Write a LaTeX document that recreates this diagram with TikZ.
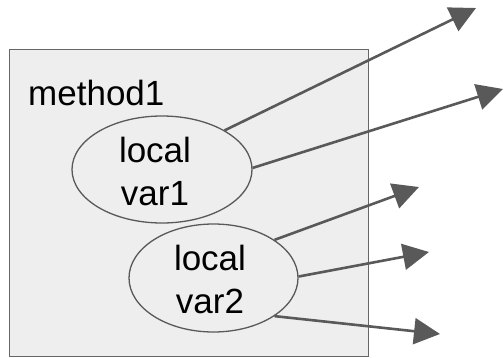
\documentclass[tikz,border=0pt]{standalone}
\usepackage{fontspec}
\setmainfont{Liberation Sans}
\usetikzlibrary{shapes.geometric,arrows.meta}
\definecolor{boxfill}{HTML}{EEEEEE}
\definecolor{boxline}{HTML}{666666}
\definecolor{arrowc}{HTML}{595959}
\tikzset{
  bigtext/.style={font=\fontsize{35}{43}\selectfont, inner sep=0pt, text=black},
  varell/.style={ellipse, draw=arrowc, fill=boxfill, line width=1.3pt, inner sep=0pt},
  ptr/.style={draw=arrowc, line width=2.6pt, -{Triangle[length=26pt,width=26pt]}}
}
\begin{document}
\begin{tikzpicture}[x=1pt,y=-1pt]
\useasboundingbox (0,0) rectangle (504,357);
% method frame
\node[draw=boxline, fill=boxfill, line width=1.4pt, rectangle, inner sep=0pt,
      minimum width=359pt, minimum height=307pt, anchor=north west] (frame) at (9,49) {};
\node[bigtext, anchor=base west] (mname) at (28,105.5) {method1};
% local variables
\node[varell, minimum width=180pt, minimum height=107pt] (e1) at (162,169.5) {};
\node[bigtext, align=center] (e1t) at (155,171) {local\\var1};
\node[varell, minimum width=169pt, minimum height=108pt] (e2) at (213.5,278) {};
\node[bigtext, align=center] (e2t) at (210,279) {local\\var2};
% arrow targets
\coordinate (t1) at (476,8);
\coordinate (t2) at (503,89);
\coordinate (t3) at (419,187);
\coordinate (t4) at (429,252);
\coordinate (t5) at (440,334);
\draw[ptr] (e1.32) -- (t1);
\draw[ptr] (e1.1) -- (t2);
\draw[ptr] (e2.32) -- (t3);
\draw[ptr] (e2.1) -- (t4);
\draw[ptr] (e2.-32) -- (t5);
\end{tikzpicture}
\end{document}
